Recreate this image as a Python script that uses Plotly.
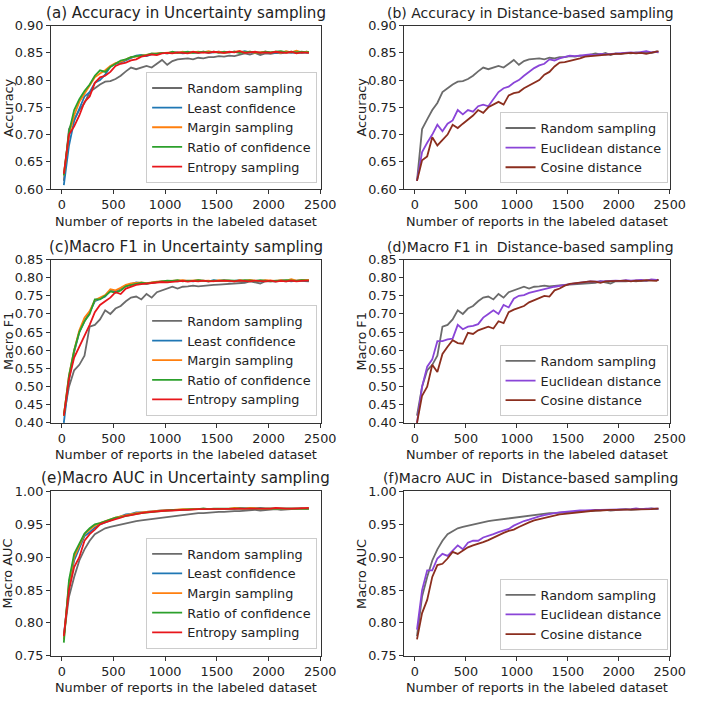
import plotly.graph_objects as go

# ---------------- data ----------------
X = [20, 70, 120, 170, 220, 270, 320, 370, 420, 470,
     520, 570, 620, 670, 720, 770, 820, 870, 920, 970,
     1020, 1070, 1120, 1170, 1220, 1270, 1320, 1370, 1420, 1470,
     1520, 1570, 1620, 1670, 1720, 1770, 1820, 1870, 1920, 1970,
     2020, 2070, 2120, 2170, 2220, 2270, 2320, 2370, 2390]

# Accuracy
acc_random = [0.615, 0.710, 0.728, 0.745, 0.758, 0.778, 0.785, 0.792, 0.797, 0.798,
              0.802, 0.808, 0.816, 0.823, 0.820, 0.823, 0.826, 0.823, 0.830, 0.837,
              0.828, 0.835, 0.838, 0.839, 0.840, 0.838, 0.841, 0.840, 0.842, 0.842,
              0.844, 0.843, 0.845, 0.844, 0.846, 0.849, 0.847, 0.850, 0.846, 0.849,
              0.848, 0.850, 0.849, 0.851, 0.850, 0.852, 0.850, 0.852, 0.851]
acc_least = [0.607, 0.680, 0.725, 0.748, 0.770, 0.778, 0.795, 0.800, 0.810, 0.825,
             0.830, 0.832, 0.836, 0.840, 0.845, 0.846, 0.844, 0.847, 0.848, 0.850,
             0.849, 0.850, 0.851, 0.849, 0.850, 0.851, 0.850, 0.852, 0.850, 0.851,
             0.852, 0.850, 0.851, 0.852, 0.851, 0.853, 0.851, 0.850, 0.851, 0.852,
             0.850, 0.851, 0.850, 0.852, 0.851, 0.850, 0.851, 0.850, 0.850]
acc_margin = [0.625, 0.700, 0.735, 0.760, 0.775, 0.790, 0.805, 0.812, 0.818, 0.826,
              0.831, 0.834, 0.838, 0.842, 0.843, 0.845, 0.847, 0.848, 0.849, 0.850,
              0.850, 0.851, 0.850, 0.852, 0.850, 0.851, 0.852, 0.851, 0.853, 0.851,
              0.852, 0.850, 0.851, 0.852, 0.853, 0.851, 0.852, 0.850, 0.851, 0.852,
              0.851, 0.852, 0.850, 0.853, 0.851, 0.854, 0.851, 0.852, 0.851]
acc_ratio = [0.625, 0.705, 0.745, 0.765, 0.780, 0.792, 0.808, 0.818, 0.815, 0.824,
             0.830, 0.836, 0.838, 0.842, 0.844, 0.845, 0.846, 0.849, 0.848, 0.850,
             0.849, 0.852, 0.850, 0.851, 0.852, 0.850, 0.851, 0.852, 0.851, 0.852,
             0.850, 0.852, 0.851, 0.852, 0.850, 0.851, 0.852, 0.851, 0.850, 0.852,
             0.851, 0.852, 0.853, 0.851, 0.852, 0.851, 0.852, 0.851, 0.852]
acc_entropy = [0.628, 0.700, 0.715, 0.735, 0.760, 0.770, 0.795, 0.805, 0.808, 0.815,
               0.826, 0.830, 0.832, 0.836, 0.838, 0.843, 0.845, 0.847, 0.846, 0.849,
               0.850, 0.849, 0.851, 0.850, 0.849, 0.852, 0.850, 0.851, 0.850, 0.852,
               0.851, 0.850, 0.852, 0.851, 0.853, 0.850, 0.851, 0.852, 0.850, 0.851,
               0.850, 0.852, 0.851, 0.850, 0.852, 0.849, 0.851, 0.850, 0.850]
acc_euclid = [0.615, 0.668, 0.685, 0.700, 0.718, 0.706, 0.720, 0.726, 0.745, 0.737,
              0.745, 0.742, 0.752, 0.755, 0.752, 0.765, 0.778, 0.785, 0.788, 0.795,
              0.800, 0.808, 0.815, 0.822, 0.827, 0.830, 0.838, 0.836, 0.840, 0.843,
              0.845, 0.844, 0.845, 0.846, 0.847, 0.846, 0.848, 0.847, 0.848, 0.849,
              0.850, 0.850, 0.851, 0.850, 0.852, 0.853, 0.851, 0.852, 0.851]
acc_cosine = [0.615, 0.653, 0.660, 0.695, 0.680, 0.690, 0.700, 0.718, 0.712, 0.720,
              0.728, 0.735, 0.745, 0.740, 0.750, 0.755, 0.760, 0.755, 0.772, 0.776,
              0.778, 0.785, 0.790, 0.795, 0.800, 0.810, 0.815, 0.825, 0.832, 0.833,
              0.835, 0.838, 0.840, 0.843, 0.844, 0.845, 0.845, 0.846, 0.847, 0.848,
              0.848, 0.849, 0.850, 0.849, 0.850, 0.848, 0.850, 0.852, 0.853]

# Macro F1
f1_random = [0.420, 0.500, 0.545, 0.560, 0.585, 0.665, 0.670, 0.685, 0.710, 0.700,
             0.715, 0.722, 0.735, 0.745, 0.748, 0.740, 0.755, 0.745, 0.760, 0.765,
             0.768, 0.775, 0.770, 0.775, 0.776, 0.778, 0.776, 0.778, 0.779, 0.780,
             0.781, 0.782, 0.783, 0.783, 0.785, 0.786, 0.790, 0.787, 0.784, 0.790,
             0.789, 0.790, 0.791, 0.790, 0.792, 0.791, 0.793, 0.792, 0.793]
f1_least = [0.400, 0.520, 0.595, 0.650, 0.680, 0.705, 0.735, 0.742, 0.748, 0.765,
            0.762, 0.770, 0.778, 0.782, 0.787, 0.785, 0.783, 0.786, 0.788, 0.790,
            0.788, 0.791, 0.790, 0.792, 0.791, 0.790, 0.792, 0.791, 0.790, 0.793,
            0.791, 0.792, 0.790, 0.791, 0.793, 0.790, 0.792, 0.791, 0.790, 0.792,
            0.791, 0.790, 0.793, 0.791, 0.790, 0.792, 0.791, 0.789, 0.790]
f1_margin = [0.420, 0.530, 0.600, 0.655, 0.690, 0.708, 0.738, 0.745, 0.752, 0.768,
             0.765, 0.772, 0.780, 0.784, 0.786, 0.787, 0.785, 0.788, 0.789, 0.790,
             0.791, 0.790, 0.792, 0.793, 0.791, 0.792, 0.793, 0.791, 0.792, 0.790,
             0.793, 0.791, 0.792, 0.790, 0.793, 0.792, 0.794, 0.792, 0.791, 0.793,
             0.792, 0.791, 0.793, 0.792, 0.796, 0.792, 0.793, 0.795, 0.794]
f1_ratio = [0.420, 0.530, 0.600, 0.650, 0.680, 0.700, 0.740, 0.740, 0.750, 0.762,
            0.758, 0.765, 0.776, 0.780, 0.783, 0.786, 0.784, 0.787, 0.788, 0.790,
            0.792, 0.791, 0.793, 0.790, 0.792, 0.791, 0.793, 0.792, 0.790, 0.792,
            0.791, 0.793, 0.792, 0.790, 0.791, 0.793, 0.792, 0.791, 0.793, 0.792,
            0.790, 0.792, 0.791, 0.793, 0.792, 0.791, 0.793, 0.792, 0.792]
f1_entropy = [0.420, 0.520, 0.580, 0.610, 0.640, 0.670, 0.705, 0.725, 0.735, 0.745,
              0.760, 0.755, 0.770, 0.775, 0.780, 0.782, 0.784, 0.785, 0.786, 0.788,
              0.787, 0.789, 0.790, 0.791, 0.789, 0.791, 0.790, 0.792, 0.790, 0.791,
              0.790, 0.792, 0.791, 0.790, 0.792, 0.791, 0.790, 0.792, 0.791, 0.790,
              0.792, 0.789, 0.791, 0.790, 0.792, 0.790, 0.791, 0.793, 0.792]
f1_euclid = [0.400, 0.500, 0.555, 0.575, 0.625, 0.625, 0.630, 0.632, 0.670, 0.658,
             0.665, 0.667, 0.672, 0.690, 0.700, 0.710, 0.700, 0.725, 0.718, 0.742,
             0.750, 0.752, 0.758, 0.762, 0.765, 0.768, 0.772, 0.775, 0.778, 0.780,
             0.782, 0.784, 0.786, 0.787, 0.790, 0.789, 0.790, 0.791, 0.790, 0.792,
             0.791, 0.793, 0.792, 0.793, 0.794, 0.792, 0.795, 0.794, 0.793]
f1_cosine = [0.400, 0.475, 0.500, 0.560, 0.540, 0.590, 0.610, 0.628, 0.620, 0.618,
             0.648, 0.645, 0.655, 0.660, 0.665, 0.660, 0.680, 0.675, 0.705, 0.712,
             0.718, 0.722, 0.732, 0.738, 0.742, 0.750, 0.748, 0.765, 0.770, 0.778,
             0.783, 0.785, 0.786, 0.788, 0.790, 0.789, 0.786, 0.790, 0.791, 0.790,
             0.791, 0.792, 0.790, 0.792, 0.791, 0.793, 0.792, 0.791, 0.795]

# Macro AUC
auc_random = [0.780, 0.840, 0.870, 0.895, 0.912, 0.925, 0.935, 0.940, 0.944, 0.946,
              0.948, 0.950, 0.952, 0.953, 0.955, 0.956, 0.957, 0.958, 0.960, 0.961,
              0.962, 0.963, 0.964, 0.965, 0.965, 0.966, 0.967, 0.967, 0.968, 0.968,
              0.969, 0.969, 0.970, 0.970, 0.970, 0.971, 0.971, 0.972, 0.971, 0.972,
              0.972, 0.973, 0.972, 0.973, 0.973, 0.973, 0.974, 0.973, 0.974]
auc_least = [0.780, 0.855, 0.895, 0.915, 0.932, 0.938, 0.945, 0.950, 0.953, 0.956,
             0.959, 0.962, 0.965, 0.966, 0.968, 0.968, 0.969, 0.970, 0.970, 0.971,
             0.971, 0.972, 0.972, 0.972, 0.973, 0.973, 0.973, 0.973, 0.974, 0.973,
             0.974, 0.974, 0.974, 0.974, 0.975, 0.974, 0.974, 0.974, 0.975, 0.974,
             0.974, 0.974, 0.974, 0.975, 0.974, 0.974, 0.974, 0.974, 0.974]
auc_margin = [0.775, 0.860, 0.900, 0.918, 0.935, 0.942, 0.948, 0.952, 0.955, 0.958,
              0.960, 0.962, 0.964, 0.966, 0.967, 0.968, 0.969, 0.970, 0.970, 0.971,
              0.971, 0.972, 0.972, 0.973, 0.973, 0.973, 0.973, 0.974, 0.973, 0.974,
              0.974, 0.974, 0.974, 0.975, 0.974, 0.974, 0.975, 0.974, 0.974, 0.974,
              0.974, 0.974, 0.975, 0.974, 0.974, 0.974, 0.974, 0.974, 0.974]
auc_ratio = [0.770, 0.865, 0.905, 0.920, 0.936, 0.944, 0.950, 0.952, 0.955, 0.958,
             0.960, 0.961, 0.963, 0.965, 0.966, 0.967, 0.968, 0.969, 0.970, 0.970,
             0.971, 0.972, 0.972, 0.972, 0.973, 0.973, 0.973, 0.974, 0.973, 0.974,
             0.974, 0.974, 0.974, 0.974, 0.974, 0.975, 0.974, 0.974, 0.974, 0.975,
             0.974, 0.974, 0.974, 0.974, 0.974, 0.974, 0.975, 0.974, 0.974]
auc_entropy = [0.780, 0.850, 0.885, 0.900, 0.925, 0.935, 0.942, 0.950, 0.953, 0.956,
               0.958, 0.960, 0.963, 0.964, 0.966, 0.967, 0.968, 0.969, 0.970, 0.970,
               0.971, 0.971, 0.972, 0.972, 0.972, 0.973, 0.973, 0.973, 0.973, 0.974,
               0.974, 0.974, 0.974, 0.974, 0.974, 0.974, 0.974, 0.974, 0.974, 0.974,
               0.974, 0.975, 0.974, 0.974, 0.974, 0.974, 0.974, 0.974, 0.975]
auc_euclid = [0.790, 0.850, 0.880, 0.880, 0.898, 0.905, 0.902, 0.910, 0.918, 0.912,
              0.922, 0.925, 0.925, 0.930, 0.932, 0.935, 0.938, 0.940, 0.943, 0.948,
              0.952, 0.955, 0.957, 0.960, 0.962, 0.964, 0.966, 0.967, 0.968, 0.969,
              0.970, 0.970, 0.971, 0.971, 0.972, 0.972, 0.972, 0.972, 0.973, 0.973,
              0.973, 0.973, 0.973, 0.974, 0.973, 0.974, 0.974, 0.974, 0.974]
auc_cosine = [0.775, 0.815, 0.835, 0.870, 0.888, 0.890, 0.898, 0.908, 0.905, 0.910,
              0.915, 0.918, 0.920, 0.923, 0.926, 0.930, 0.933, 0.937, 0.940, 0.942,
              0.946, 0.950, 0.953, 0.956, 0.958, 0.960, 0.962, 0.964, 0.965, 0.966,
              0.967, 0.968, 0.969, 0.970, 0.970, 0.971, 0.971, 0.972, 0.972, 0.972,
              0.972, 0.973, 0.972, 0.973, 0.973, 0.973, 0.973, 0.974, 0.974]

UNC_NAMES = ["Random sampling", "Least confidence", "Margin sampling",
             "Ratio of confidence", "Entropy sampling"]
DIST_NAMES = ["Random sampling", "Euclidean distance", "Cosine distance"]
TITLES = ["(a) Accuracy in Uncertainty sampling", "(b) Accuracy in Distance-based sampling",
          "(c)Macro F1 in Uncertainty sampling", "(d)Macro F1 in  Distance-based sampling",
          "(e)Macro AUC in Uncertainty sampling", "(f)Macro AUC in  Distance-based sampling"]
Y_LABELS = ["Accuracy", "Accuracy", "Macro F1", "Macro F1", "Macro AUC", "Macro AUC"]
X_LABEL = "Number of reports in the labeled dataset"
Y_RANGES = [(0.60, 0.90), (0.60, 0.90), (0.40, 0.85), (0.40, 0.85), (0.75, 1.00), (0.75, 1.00)]

all_series = [acc_random, acc_least, acc_margin, acc_ratio, acc_entropy, acc_euclid, acc_cosine,
              f1_random, f1_least, f1_margin, f1_ratio, f1_entropy, f1_euclid, f1_cosine,
              auc_random, auc_least, auc_margin, auc_ratio, auc_entropy, auc_euclid, auc_cosine]
assert all(len(s) == len(X) for s in all_series), [len(s) for s in all_series]

# ---------------- style ----------------
W, H = 708, 701
FONT = "DejaVu Sans"
FS = 12.8
UNC_COLORS = ["#6b6b6b", "#1f77b4", "#ff7f0e", "#2ca02c", "#e8161b"]
DIST_COLORS = ["#6b6b6b", "#8a45d8", "#8b2e1e"]

COLS = [(52, 328), (413, 685)]
ROWS = [(18, 185), (257, 424), (494, 662)]
TITLE_CX = [190, 542]
TITLE_FS = [15.1, 14.0]
LEGEND_POS = [(324, 179), (682, 179), (324, 417), (682, 417), (324, 655), (682, 656)]

panels = [
    ([acc_random, acc_least, acc_margin, acc_ratio, acc_entropy], UNC_NAMES, UNC_COLORS),
    ([acc_random, acc_euclid, acc_cosine], DIST_NAMES, DIST_COLORS),
    ([f1_random, f1_least, f1_margin, f1_ratio, f1_entropy], UNC_NAMES, UNC_COLORS),
    ([f1_random, f1_euclid, f1_cosine], DIST_NAMES, DIST_COLORS),
    ([auc_random, auc_least, auc_margin, auc_ratio, auc_entropy], UNC_NAMES, UNC_COLORS),
    ([auc_random, auc_euclid, auc_cosine], DIST_NAMES, DIST_COLORS),
]

fig = go.Figure()
layout = dict(width=W, height=H, margin=dict(l=0, r=0, t=0, b=0),
              paper_bgcolor="white", plot_bgcolor="white",
              font=dict(family=FONT, size=FS, color="#222222"),
              showlegend=True, annotations=[])

for i, (series, names, colors) in enumerate(panels):
    k = i + 1
    sfx = "" if k == 1 else str(k)
    col = i % 2
    row = i // 2
    x0, x1 = COLS[col]
    top, bot = ROWS[row]
    xd = [x0 / W, x1 / W]
    yd = [1 - bot / H, 1 - top / H]
    legname = "legend" + sfx
    for s, n, c in zip(series, names, colors):
        fig.add_trace(go.Scatter(x=X, y=s, name=n, mode="lines",
                                 line=dict(color=c, width=1.8),
                                 xaxis="x" + sfx, yaxis="y" + sfx,
                                 legend=legname))
    axcommon = dict(showline=True, mirror=True, linecolor="#333333", linewidth=1,
                    ticks="outside", ticklen=4, tickcolor="#333333", showgrid=False,
                    zeroline=False, tickfont=dict(family=FONT, size=FS, color="#222222"))
    layout["xaxis" + sfx] = dict(domain=xd, range=[-105, 2508], tick0=0, dtick=500,
                                 anchor="y" + sfx, **axcommon)
    layout["yaxis" + sfx] = dict(domain=yd, range=list(Y_RANGES[i]), dtick=0.05,
                                 tickformat=".2f", anchor="x" + sfx, **axcommon)
    lx, ly = LEGEND_POS[i]
    layout[legname] = dict(x=lx / W, y=1 - ly / H, xanchor="right", yanchor="bottom",
                           bgcolor="rgba(255,255,255,0.85)", bordercolor="#cccccc",
                           borderwidth=1, font=dict(family=FONT, size=FS, color="#222222"),
                           tracegroupgap=0)
    # title
    layout["annotations"].append(dict(text=TITLES[i], xref="paper", yref="paper",
                                      x=TITLE_CX[col] / W, y=yd[1], xanchor="center",
                                      yanchor="middle", yshift=13, showarrow=False,
                                      font=dict(family=FONT, size=TITLE_FS[col], color="#222222")))
    layout["annotations"].append(dict(text=X_LABEL, xref="paper", yref="paper",
                                      x=(x0 + x1) / 2 / W, y=yd[0], xanchor="center",
                                      yanchor="middle", yshift=-32, showarrow=False,
                                      font=dict(family=FONT, size=FS, color="#222222")))
    layout["annotations"].append(dict(text=Y_LABELS[i], xref="paper", yref="paper",
                                      x=xd[0], y=(yd[0] + yd[1]) / 2, xanchor="center",
                                      yanchor="middle", xshift=-43, textangle=-90,
                                      showarrow=False,
                                      font=dict(family=FONT, size=FS, color="#222222")))

fig.update_layout(**layout)
fig.write_html("out.html")
